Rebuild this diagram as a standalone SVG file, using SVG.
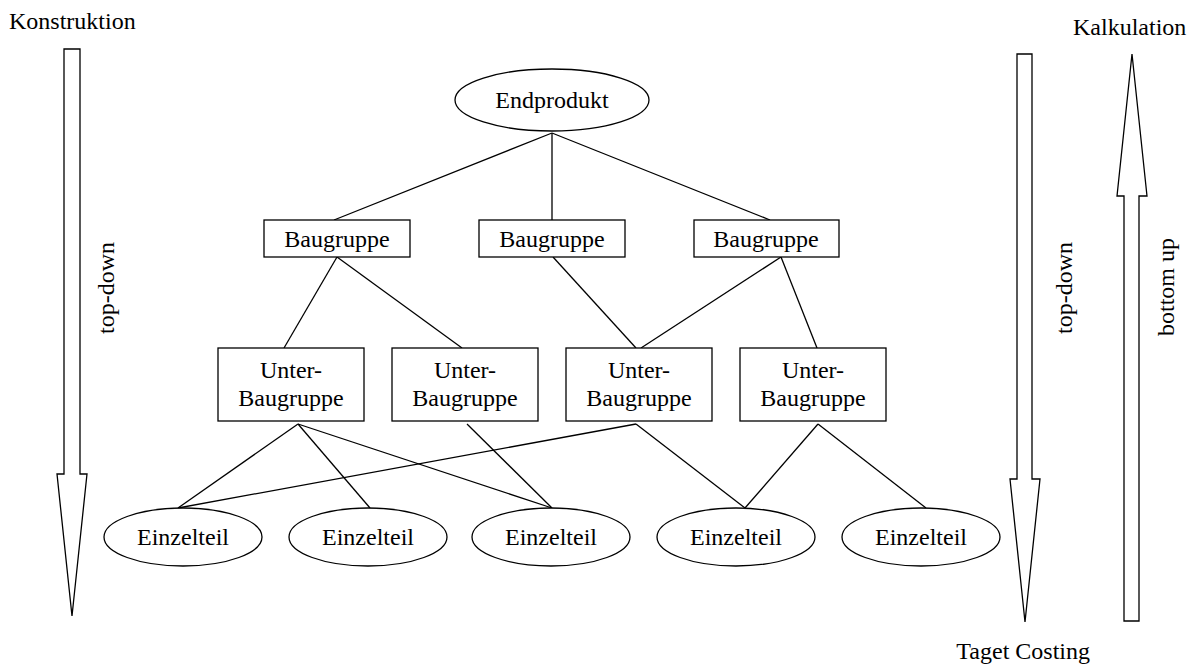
<svg xmlns="http://www.w3.org/2000/svg" width="1192" height="664" viewBox="0 0 1192 664">
<style>
text{font-family:"Liberation Serif","Times New Roman",serif;font-size:24px;fill:#000}
.c{text-anchor:middle}
.n{fill:#fff;stroke:#000;stroke-width:1.3}
.e{stroke:#000;stroke-width:1.3;fill:none}
.a{fill:#fff;stroke:#000;stroke-width:1.3;stroke-linejoin:miter}
</style>
<rect width="1192" height="664" fill="#fff"/>
<g id="connectors" class="e">
<line x1="552" y1="133" x2="334" y2="220"/>
<line x1="552" y1="133" x2="552" y2="220"/>
<line x1="552" y1="133" x2="770" y2="220"/>
<line x1="337" y1="257" x2="284" y2="348"/>
<line x1="337" y1="257" x2="462" y2="348"/>
<line x1="553" y1="257" x2="636" y2="348"/>
<line x1="781" y1="257" x2="641" y2="348"/>
<line x1="781" y1="257" x2="817" y2="348"/>
<line x1="298" y1="424" x2="178" y2="508"/>
<line x1="298" y1="424" x2="370" y2="508"/>
<line x1="298" y1="424" x2="552" y2="508"/>
<line x1="467" y1="424" x2="552" y2="508"/>
<line x1="636" y1="424" x2="178" y2="508"/>
<line x1="636" y1="424" x2="745" y2="508"/>
<line x1="818" y1="424" x2="745" y2="508"/>
<line x1="818" y1="424" x2="926" y2="508"/>
</g>
<g id="endprodukt"><ellipse class="n" cx="552" cy="100" rx="97" ry="31"/><text class="c" x="552" y="108">Endprodukt</text></g>
<g id="baugruppe1"><rect class="n" x="264" y="220" width="146" height="37"/><text class="c" x="337" y="247">Baugruppe</text></g>
<g id="baugruppe2"><rect class="n" x="479" y="220" width="146" height="37"/><text class="c" x="552" y="247">Baugruppe</text></g>
<g id="baugruppe3"><rect class="n" x="694" y="220" width="145" height="37"/><text class="c" x="766" y="247">Baugruppe</text></g>
<g id="unter1"><rect class="n" x="218" y="348" width="146" height="73"/><text class="c" x="291" y="378">Unter-</text><text class="c" x="291" y="406">Baugruppe</text></g>
<g id="unter2"><rect class="n" x="392" y="348" width="146" height="73"/><text class="c" x="465" y="378">Unter-</text><text class="c" x="465" y="406">Baugruppe</text></g>
<g id="unter3"><rect class="n" x="566" y="348" width="146" height="73"/><text class="c" x="639" y="378">Unter-</text><text class="c" x="639" y="406">Baugruppe</text></g>
<g id="unter4"><rect class="n" x="740" y="348" width="146" height="73"/><text class="c" x="813" y="378">Unter-</text><text class="c" x="813" y="406">Baugruppe</text></g>
<g id="einzelteil1"><ellipse class="n" cx="183" cy="537" rx="79" ry="29"/><text class="c" x="183" y="545">Einzelteil</text></g>
<g id="einzelteil2"><ellipse class="n" cx="368" cy="537" rx="79" ry="29"/><text class="c" x="368" y="545">Einzelteil</text></g>
<g id="einzelteil3"><ellipse class="n" cx="551" cy="537" rx="79" ry="29"/><text class="c" x="551" y="545">Einzelteil</text></g>
<g id="einzelteil4"><ellipse class="n" cx="736" cy="537" rx="79" ry="29"/><text class="c" x="736" y="545">Einzelteil</text></g>
<g id="einzelteil5"><ellipse class="n" cx="921" cy="537" rx="79" ry="29"/><text class="c" x="921" y="545">Einzelteil</text></g>
<g id="konstruktion">
<text x="9" y="29">Konstruktion</text>
<polygon class="a" points="64,49 80,49 80,474 87,474 72,616 57,474 64,474"/>
<text class="c" transform="translate(114,288) rotate(-90)">top-down</text>
</g>
<g id="target-costing">
<polygon class="a" points="1017,54 1032,54 1032,479 1040,479 1025,622 1010,479 1017,479"/>
<text class="c" transform="translate(1072,288) rotate(-90)">top-down</text>
<text style="text-anchor:end" x="1090" y="659">Taget Costing</text>
</g>
<g id="kalkulation">
<text x="1073" y="35">Kalkulation</text>
<polygon class="a" points="1132,54 1147,196 1139,196 1139,621 1124,621 1124,196 1117,196"/>
<text class="c" transform="translate(1174,287) rotate(-90)">bottom up</text>
</g>
</svg>
